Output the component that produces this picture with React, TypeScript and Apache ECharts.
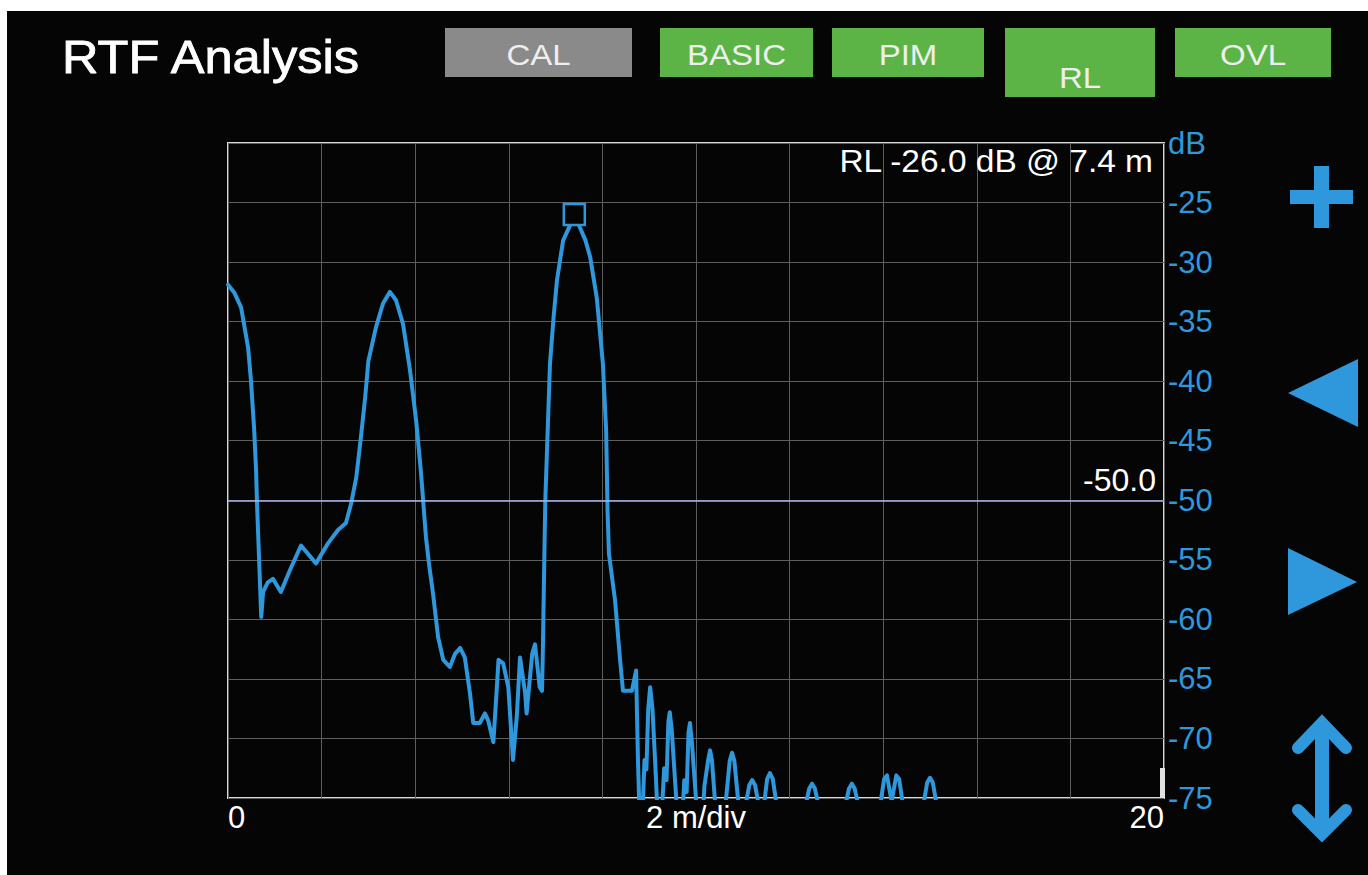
import React, { useEffect, useRef } from "react";
import * as echarts from "echarts";

// Distance along the line (m) and return loss (dB)
const distanceM = [
  0, 0.14, 0.28, 0.43, 0.49, 0.56, 0.6, 0.62, 0.66, 0.71, 0.75, 0.85, 0.96, 1.13, 1.32, 1.56, 1.88, 2.14, 2.35,
  2.52, 2.63, 2.74, 2.84, 2.93, 3.0, 3.16, 3.31, 3.46, 3.59, 3.74, 3.89, 4.02, 4.12, 4.23, 4.3, 4.38, 4.49,
  4.6, 4.74, 4.85, 4.96, 5.06, 5.17, 5.24, 5.38, 5.49, 5.56, 5.67, 5.74, 5.78, 5.88, 5.99, 6.09, 6.17, 6.24,
  6.35, 6.38, 6.5, 6.56, 6.66, 6.71, 6.73, 6.75, 6.78, 6.88, 6.96, 7.03, 7.16, 7.31, 7.4, 7.52, 7.64, 7.74,
  7.88, 8.01, 8.08, 8.11, 8.14, 8.27, 8.38, 8.44, 8.63, 8.72, 8.76, 8.82, 8.9, 8.94, 8.98, 9.02, 9.07, 9.14,
  9.22, 9.32, 9.37, 9.41, 9.44, 9.48, 9.56, 9.66, 9.75, 9.8, 9.84, 9.87, 9.91, 9.98, 10.09, 10.18, 10.26,
  10.3, 10.34, 10.42, 10.5, 10.62, 10.72, 10.77, 10.82, 10.92, 10.98, 11.04, 11.14, 11.2, 11.26, 11.36,
  11.44, 11.52, 11.58, 11.64, 11.74, 12.32, 12.42, 12.48, 12.54, 12.64, 13.17, 13.27, 13.33, 13.39, 13.49,
  13.92, 14.02, 14.08, 14.18, 14.28, 14.34, 14.44, 14.84, 14.94, 15.0, 15.06, 15.16, 15.4,
];
const returnLossDb = [
  -31.9, -32.6, -33.8, -37.2, -39.9, -44.1, -47.5, -50.3, -54.5, -59.8, -57.7, -56.9, -56.6, -57.7, -55.9,
  -53.8, -55.3, -53.6, -52.5, -51.9, -50.3, -48.1, -44.7, -41.4, -38.3, -35.5, -33.5, -32.5, -33.2, -35.2,
  -39.1, -43.3, -47.5, -53.1, -55.5, -57.8, -61.5, -63.4, -64.0, -62.9, -62.4, -63.2, -66.2, -68.7, -68.7,
  -67.9, -68.5, -70.3, -66.0, -63.4, -63.7, -65.7, -71.8, -68.2, -63.2, -66.2, -67.9, -62.9, -62.1, -65.7,
  -66.0, -62.1, -57.0, -50.0, -38.5, -34.5, -31.5, -28.2, -26.9, -26.0, -27.1, -28.2, -29.6, -33.0, -38.5,
  -44.1, -50.9, -54.5, -58.4, -63.5, -66.0, -66.0, -64.3, -71.8, -80, -71.8, -72.6, -67.5, -65.7, -67.5,
  -73, -80, -72.5, -73.5, -68.6, -67.8, -69.2, -74, -80, -73.5, -74.5, -69.5, -68.7, -70.2, -74, -80, -74,
  -71.8, -71.0, -71.8, -76, -80, -76, -71.9, -71.2, -71.9, -76, -78, -76, -73.9, -73.5, -73.9, -76, -76,
  -73.4, -72.9, -73.4, -76, -76, -74.2, -73.8, -74.2, -76, -76, -74.2, -73.8, -74.2, -76, -76, -73.4, -73.1,
  -75.3, -73.1, -73.4, -76, -76, -73.7, -73.3, -73.7, -76, -80,
];

const peakDistance = 7.4;
const peakDb = -26.0;
const thresholdDb = -50;

const xTickValues = [0, 10, 20];
const xTickTexts = ["0", "2 m/div", "20"];
const yTopLabel = "dB";

const titleText = "RTF Analysis";
const buttonLabels = ["CAL", "BASIC", "PIM", "RL", "OVL"];

const BLUE = "#2f98dc";
const FONT = "'Liberation Sans', Arial, Helvetica, sans-serif";

export default function App() {
  const ref = useRef<HTMLDivElement>(null);

  useEffect(() => {
    if (!ref.current) return;
    const chart = echarts.init(ref.current, null, { renderer: "svg" });

    const buttonBoxes = [
      { x: 445, y: 28, w: 187, h: 49, fill: "#8a8a8a", ty: 55 },
      { x: 660, y: 28, w: 153, h: 49, fill: "#5cb446", ty: 55 },
      { x: 832, y: 28, w: 152, h: 49, fill: "#5cb446", ty: 55 },
      { x: 1005, y: 28, w: 150, h: 69, fill: "#5cb446", ty: 78 },
      { x: 1175, y: 28, w: 156, h: 49, fill: "#5cb446", ty: 55 },
    ];

    const buttons: any[] = [];
    buttonLabels.forEach((label, i) => {
      const b = buttonBoxes[i];
      buttons.push({
        type: "rect",
        shape: { x: b.x, y: b.y, width: b.w, height: b.h },
        style: { fill: b.fill },
        z: 5,
      });
      buttons.push({
        type: "text",
        x: b.x + b.w / 2,
        y: b.ty,
        scaleX: 1.1,
        style: {
          text: label,
          fill: "#eeeeee",
          font: `30px ${FONT}`,
          align: "center",
          verticalAlign: "middle",
        },
        z: 6,
      });
    });

    const option: any = {
      animation: false,
      backgroundColor: "transparent",
      grid: {
        left: 228,
        top: 143,
        right: 204,
        bottom: 77,
        show: true,
        borderColor: "#d8d8d8",
        borderWidth: 2,
        backgroundColor: "transparent",
      },
      xAxis: {
        type: "value",
        min: 0,
        max: 20,
        interval: 2,
        axisLine: { show: false },
        axisTick: { show: false },
        splitLine: { show: true, lineStyle: { color: "#5e5e5e", width: 1 } },
        axisLabel: {
          color: "#ffffff",
          fontSize: 31,
          fontFamily: FONT,
          margin: 4,
          showMinLabel: true,
          showMaxLabel: true,
          alignMinLabel: "left",
          alignMaxLabel: "right",
          formatter: (v: number) => {
            const i = xTickValues.indexOf(v);
            return i >= 0 ? xTickTexts[i] : "";
          },
        },
      },
      yAxis: {
        type: "value",
        position: "right",
        min: -75,
        max: -20,
        interval: 5,
        axisLine: { show: false },
        axisTick: { show: false },
        splitLine: { show: true, lineStyle: { color: "#5e5e5e", width: 1 } },
        axisLabel: {
          color: BLUE,
          fontSize: 31,
          fontFamily: FONT,
          margin: 4,
          showMinLabel: true,
          showMaxLabel: true,
          formatter: (v: number) => (v === -20 ? yTopLabel : String(v)),
        },
      },
      series: [
        {
          type: "line",
          data: distanceM.map((d, i) => [d, returnLossDb[i]]),
          showSymbol: false,
          symbol: "none",
          clip: true,
          z: 3,
          lineStyle: { color: BLUE, width: 4, join: "round", cap: "round" },
          markLine: {
            silent: true,
            symbol: "none",
            data: [{ yAxis: thresholdDb }],
            lineStyle: { color: "#a9b6ef", width: 1.5, type: "solid" },
            label: {
              show: true,
              position: "insideEndTop",
              formatter: thresholdDb.toFixed(1),
              color: "#ffffff",
              fontSize: 32,
              fontFamily: FONT,
              distance: [8, 4],
            },
          },
          markPoint: {
            silent: true,
            symbol: "rect",
            symbolSize: 21,
            data: [{ coord: [peakDistance, peakDb] }],
            itemStyle: { color: "#050505", borderColor: BLUE, borderWidth: 2.5 },
            label: { show: false },
          },
        },
      ],
      graphic: [
        {
          type: "rect",
          shape: { x: 7, y: 11, width: 1400, height: 900 },
          style: { fill: "#050505" },
          z: -10,
          silent: true,
        },
        {
          type: "text",
          x: 62,
          y: 57,
          scaleX: 1.1,
          style: {
            text: titleText,
            fill: "#ffffff",
            font: `500 46px ${FONT}`,
            align: "left",
            verticalAlign: "middle",
            stroke: "#ffffff",
            lineWidth: 0.8,
          },
          z: 6,
        },
        ...buttons,
        {
          type: "text",
          x: 1153,
          y: 161,
          scaleX: 1.08,
          style: {
            text: `RL ${peakDb.toFixed(1)} dB @ ${peakDistance.toFixed(1)} m`,
            fill: "#ffffff",
            font: `31px ${FONT}`,
            align: "right",
            verticalAlign: "middle",
          },
          z: 6,
        },
        {
          type: "rect",
          shape: { x: 1160, y: 768, width: 5, height: 30 },
          style: { fill: "#e0e0e0" },
          z: 6,
        },
        // plus icon
        { type: "rect", shape: { x: 1290, y: 190, width: 63, height: 14 }, style: { fill: BLUE }, z: 6 },
        { type: "rect", shape: { x: 1314, y: 166, width: 15, height: 62 }, style: { fill: BLUE }, z: 6 },
        // left triangle
        {
          type: "polygon",
          shape: { points: [[1288, 393], [1358, 359], [1358, 427]] },
          style: { fill: BLUE },
          z: 6,
        },
        // right triangle
        {
          type: "polygon",
          shape: { points: [[1288, 548], [1357, 582], [1288, 615]] },
          style: { fill: BLUE },
          z: 6,
        },
        // double arrow
        { type: "rect", shape: { x: 1315, y: 724, width: 14, height: 110 }, style: { fill: BLUE }, z: 6 },
        {
          type: "polyline",
          shape: { points: [[1298, 748], [1322, 723], [1346, 748]] },
          style: { stroke: BLUE, lineWidth: 12, fill: null, lineJoin: "miter", lineCap: "round" },
          z: 6,
        },
        {
          type: "polyline",
          shape: { points: [[1298, 810], [1322, 834], [1346, 810]] },
          style: { stroke: BLUE, lineWidth: 12, fill: null, lineJoin: "miter", lineCap: "round" },
          z: 6,
        },
      ],
    };

    chart.setOption(option);
    return () => chart.dispose();
  }, []);

  return (
    <div
      style={{
        position: "fixed",
        left: 0,
        top: 0,
        width: 1368,
        height: 875,
        background: "#ffffff",
      }}
    >
      <div ref={ref} style={{ width: 1368, height: 875 }} />
    </div>
  );
}
